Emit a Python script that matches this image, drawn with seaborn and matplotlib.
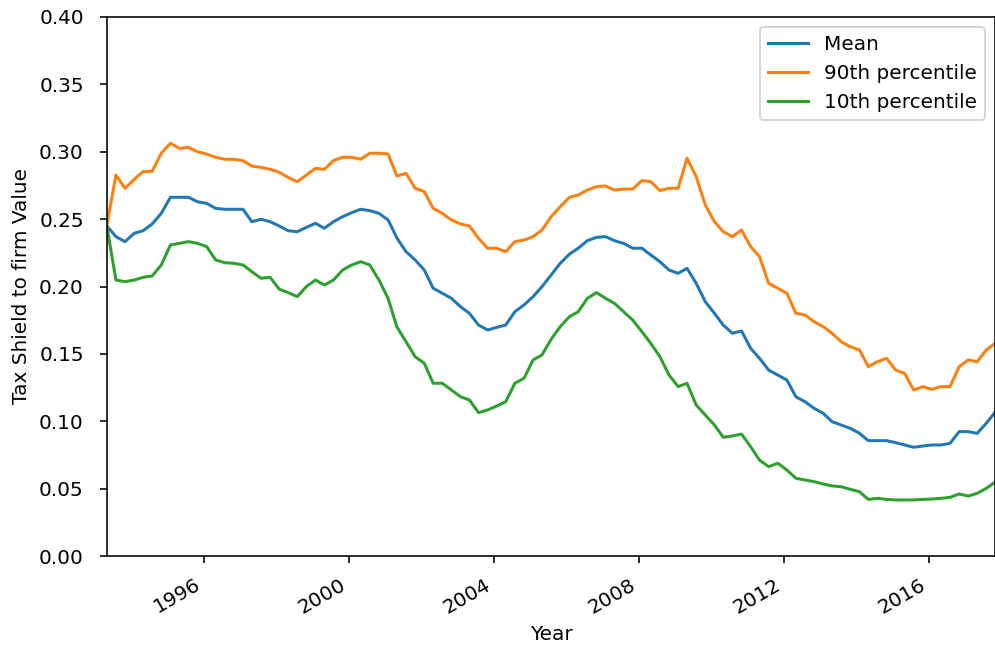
import numpy as np
import pandas as pd
import matplotlib
matplotlib.use("Agg")
import matplotlib.pyplot as plt
import matplotlib.dates as mdates
import seaborn as sns

# Quarterly readings (month-end), Apr 1993 .. Oct 2017
start_date = "1993-04-30"
n_points = 99

mean_vals = [
    0.245, 0.237, 0.2333, 0.2395, 0.2414, 0.2464, 0.2543, 0.2662, 0.2662, 0.2662,
    0.2629, 0.2617, 0.258, 0.2573, 0.2573, 0.2573, 0.2481, 0.2499, 0.2481, 0.2449,
    0.2414, 0.2407, 0.2439, 0.2469, 0.2432, 0.2481, 0.2518, 0.2548, 0.2573, 0.2563,
    0.2543, 0.2494, 0.236, 0.2258, 0.2197, 0.2122, 0.1987, 0.195, 0.1912, 0.185,
    0.1801, 0.1714, 0.1677, 0.1697, 0.1714, 0.1813, 0.1863, 0.1925, 0.1999, 0.2085,
    0.2172, 0.224, 0.2284, 0.234, 0.2365, 0.237, 0.234, 0.232, 0.2284, 0.2284,
    0.2234, 0.2184, 0.2122, 0.2098, 0.2135, 0.2024, 0.1887, 0.1801, 0.1714, 0.1653,
    0.167, 0.1541, 0.1467, 0.138, 0.1343, 0.1306, 0.1182, 0.1145, 0.1096, 0.1059,
    0.0997, 0.0972, 0.0947, 0.0911, 0.0856, 0.0856, 0.0856, 0.0841, 0.0824, 0.0807,
    0.0816, 0.0824, 0.0824, 0.0836, 0.0923, 0.0923, 0.091, 0.0985, 0.107,
]

p90_vals = [
    0.245, 0.2827, 0.2729, 0.2795, 0.2852, 0.2855, 0.2989, 0.3063, 0.3025, 0.3033,
    0.300, 0.2983, 0.2959, 0.2944, 0.2944, 0.2934, 0.2894, 0.2884, 0.287, 0.2848,
    0.281, 0.2778, 0.2827, 0.2877, 0.287, 0.2934, 0.2959, 0.2959, 0.2944, 0.2989,
    0.2989, 0.2983, 0.282, 0.284, 0.2729, 0.2704, 0.258, 0.2543, 0.2494, 0.2464,
    0.2449, 0.2358, 0.2284, 0.2284, 0.2258, 0.2333, 0.2345, 0.237, 0.2419, 0.2518,
    0.2592, 0.2662, 0.2679, 0.2716, 0.2741, 0.2746, 0.2716, 0.2723, 0.2723, 0.2786,
    0.2778, 0.2712, 0.2729, 0.2729, 0.2952, 0.2815, 0.2605, 0.2481, 0.2407, 0.237,
    0.2419, 0.2296, 0.2222, 0.2024, 0.1987, 0.195, 0.1801, 0.1789, 0.1739, 0.1702,
    0.1653, 0.159, 0.1553, 0.1529, 0.1405, 0.1442, 0.1467, 0.138, 0.1356, 0.1232,
    0.1257, 0.1237, 0.1257, 0.1257, 0.1405, 0.1455, 0.1442, 0.1529, 0.158,
]

p10_vals = [
    0.245, 0.2048, 0.2036, 0.2048, 0.2068, 0.2078, 0.216, 0.2308, 0.232, 0.2333,
    0.232, 0.2296, 0.2197, 0.2177, 0.2172, 0.216, 0.211, 0.2061, 0.2068, 0.198,
    0.1955, 0.1925, 0.1999, 0.2048, 0.2011, 0.2048, 0.2122, 0.216, 0.2184, 0.216,
    0.2048, 0.1912, 0.170, 0.159, 0.1479, 0.143, 0.1282, 0.1282, 0.1232, 0.1182,
    0.1158, 0.1064, 0.1084, 0.1113, 0.1145, 0.1282, 0.1319, 0.1455, 0.1492, 0.1608,
    0.1702, 0.1776, 0.1813, 0.1912, 0.1955, 0.1912, 0.1875, 0.1813, 0.1751, 0.1665,
    0.1578, 0.1479, 0.1343, 0.1257, 0.1282, 0.1121, 0.1046, 0.0972, 0.0881, 0.0891,
    0.0905, 0.0811, 0.0712, 0.0663, 0.0688, 0.0638, 0.0577, 0.0564, 0.0552, 0.0534,
    0.052, 0.0514, 0.0495, 0.0477, 0.042, 0.0428, 0.042, 0.0416, 0.0416, 0.0416,
    0.042, 0.0423, 0.0428, 0.0435, 0.046, 0.0445, 0.0465, 0.0502, 0.055,
]

series_names = ["Mean", "90th percentile", "10th percentile"]
series_colors = ["#1f77b4", "#ff7f0e", "#2ca02c"]
y_ticks = [0.00, 0.05, 0.10, 0.15, 0.20, 0.25, 0.30, 0.35, 0.40]
x_label = "Year"
y_label = "Tax Shield to firm Value"

dates = pd.date_range(start_date, periods=n_points, freq="3ME")
frames = []
for name, vals in zip(series_names, [mean_vals, p90_vals, p10_vals]):
    frames.append(pd.DataFrame({"date": dates, "value": vals, "series": name}))
df = pd.concat(frames, ignore_index=True)

plt.rcParams["font.family"] = ["DejaVu Sans"]
plt.rcParams["font.size"] = 10

W, H, DPI = 995, 649, 144
fig = plt.figure(figsize=(W / DPI, H / DPI), dpi=DPI)
ax = fig.add_axes([106.8 / W, (H - 556) / H, 888.6 / W, 539 / H])

sns.lineplot(data=df, x="date", y="value", hue="series",
             hue_order=series_names, palette=series_colors,
             linewidth=1.5, ax=ax, sort=True)

ax.set_xlim(dates[0], dates[-1])
ax.set_ylim(0, 0.40)
ax.set_yticks(y_ticks)
ax.yaxis.set_major_formatter(matplotlib.ticker.FormatStrFormatter("%.2f"))
ax.xaxis.set_major_locator(mdates.YearLocator(4))
ax.xaxis.set_major_formatter(mdates.DateFormatter("%Y"))
ax.tick_params(axis="y", pad=8)
ax.tick_params(axis="x", pad=6)
plt.setp(ax.get_xticklabels(), rotation=30, ha="right")
ax.set_xlabel(x_label)
ax.set_ylabel(y_label)

handles, labels = ax.get_legend_handles_labels()
ax.legend(handles, labels, loc="upper right")

fig.savefig("out.png", dpi=DPI)
